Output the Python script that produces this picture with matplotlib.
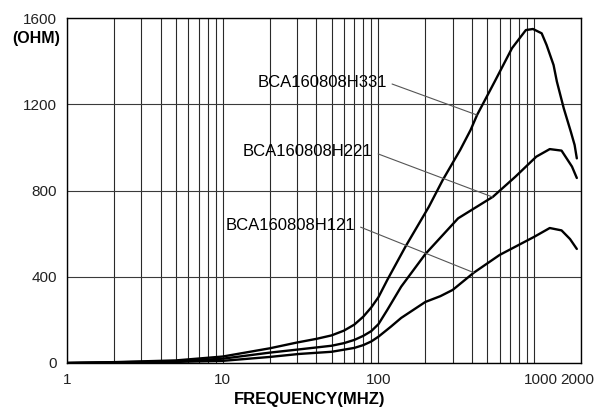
import matplotlib
matplotlib.use("Agg")
import matplotlib.pyplot as plt
import matplotlib.transforms as mtransforms
from matplotlib.ticker import LogLocator, NullFormatter

plt.rcParams['font.family'] = ['Liberation Sans', 'DejaVu Sans']

# impedance curves (frequency in MHz, impedance in ohm)
freq_331 = [1, 2, 5, 10, 20, 30, 40, 50, 60, 70, 80, 90, 100, 114, 149, 211, 259, 335, 391,
            430, 558, 721, 885, 983, 1118, 1202, 1333, 1400, 1550, 1720, 1820, 1880]
imp_331 = [0, 4, 12, 30, 68, 95, 112, 128, 150, 178, 215, 258, 305, 385, 539, 725, 849, 988,
           1081, 1150, 1305, 1460, 1544, 1549, 1529, 1475, 1382, 1305, 1181, 1073, 1011, 949]

freq_221 = [1, 2, 5, 10, 20, 30, 50, 60, 70, 80, 90, 100, 114, 140, 200, 325, 544, 758,
            1033, 1260, 1500, 1750, 1880]
imp_221 = [0, 3, 8, 20, 48, 62, 80, 92, 107, 126, 148, 180, 246, 354, 505, 671, 771, 864,
           957, 992, 985, 911, 858]

freq_121 = [1, 2, 5, 10, 20, 31, 50, 70, 80, 90, 100, 120, 140, 200, 250, 300, 410, 600,
            1000, 1260, 1500, 1700, 1880]
imp_121 = [0, 2, 5, 10, 28, 42, 52, 70, 83, 100, 122, 168, 209, 283, 310, 339, 419, 501,
           585, 626, 615, 575, 529]

names = ["BCA160808H331", "BCA160808H221", "BCA160808H121"]
label_text_pos = [(113, 1303), (92, 979), (71, 640)]
label_point = [(430, 1150), (540, 770), (410, 419)]

x_ticks = [1, 10, 100, 1000, 2000]
y_ticks = [0, 400, 800, 1200, 1600]

fig = plt.figure(figsize=(6.13, 4.07), dpi=100)
ax = fig.add_axes([67 / 613, 44 / 407, 514 / 613, 345 / 407])

for f, z in [(freq_331, imp_331), (freq_221, imp_221), (freq_121, imp_121)]:
    ax.plot(f, z, color="black", lw=1.7, solid_capstyle="round", solid_joinstyle="round",
            zorder=3)

ax.set_xscale("log")
ax.set_xlim(1, 2000)
ax.set_ylim(0, 1600)
ax.set_xticks(x_ticks)
ax.set_xticklabels([str(t) for t in x_ticks])
ax.xaxis.set_minor_locator(LogLocator(base=10, subs=range(2, 10)))
ax.xaxis.set_minor_formatter(NullFormatter())
ax.set_yticks(y_ticks)
ax.grid(True, which="both", axis="x", color="#2a2a2a", lw=0.8)
ax.grid(True, which="major", axis="y", color="#3a3a3a", lw=0.8)
ax.tick_params(which="both", length=0, labelsize=11, colors="#222222")
ax.tick_params(axis="x", pad=7)
ax.tick_params(axis="y", pad=7)
for s in ax.spines.values():
    s.set_color("black")
    s.set_linewidth(1.0)

# nudge the 1000 / 2000 labels like the original
for lab in ax.get_xticklabels():
    dx = {"1000": 7, "2000": -4}.get(lab.get_text(), 0)
    if dx:
        lab.set_transform(lab.get_transform() + mtransforms.ScaledTranslation(dx / 100, 0, fig.dpi_scale_trans))

for name, tp, pp in zip(names, label_text_pos, label_point):
    ax.annotate(name, xy=pp, xytext=tp, ha="right", va="center", fontsize=12,
                color="black",
                arrowprops=dict(arrowstyle="-", color="#555555", lw=0.8, relpos=(1.0, 0.5),
                                shrinkA=2, shrinkB=0))

ax.set_xlabel("FREQUENCY(MHZ)", fontsize=12, fontweight="bold")
ax.xaxis.set_label_coords((310 - 67) / 514, -0.085)
fig.text(60 / 613, 1 - 39 / 407, "(OHM)", ha="right", va="center", fontsize=11.5,
         fontweight="bold")

fig.savefig("out.png", dpi=100)
